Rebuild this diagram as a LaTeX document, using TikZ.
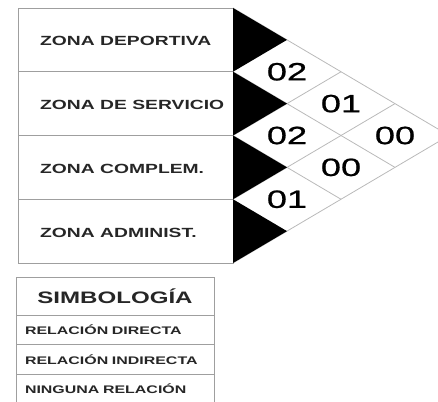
\documentclass[tikz,border=0pt]{standalone}
\usepackage{fontspec}
\setmainfont{Liberation Sans}[FakeStretch=1.45]
\newfontfamily\cifras{Liberation Sans}[FakeStretch=1.45, FakeBold=0.8]
\usetikzlibrary{positioning}

\begin{document}
\begin{tikzpicture}[x=1pt, y=1pt,
  zona/.style={draw=gray!75, line width=0.9pt, outer sep=0pt, minimum width=215pt, minimum height=63.75pt,
    label={[etiqueta]west:#1}},
  etiqueta/.style={anchor=west, xshift=22pt, yshift=-1.5pt, inner sep=0pt, text=black!85,
    font=\fontsize{13.3}{15}\selectfont\bfseries},
  rejilla/.style={draw=gray!55, line width=0.8pt},
  valor/.style={inner sep=0pt, font=\cifras\fontsize{25}{28}\selectfont},
  simbtitulo/.style={draw=gray!75, line width=0.9pt, outer sep=0pt, minimum width=198pt, minimum height=38pt,
    text=black!85, font=\fontsize{16.6}{18}\selectfont\bfseries},
  simbfila/.style={draw=gray!75, line width=0.9pt, outer sep=0pt, minimum width=198pt, minimum height=29.5pt,
    text width=180pt, inner xsep=9pt, align=left, text=black!85, font=\fontsize{11}{12}\selectfont\bfseries}]

\useasboundingbox (0,0) rectangle (438,-401);

\node[zona={ZONA DEPORTIVA}, anchor=north west] (zona_1) at (18,-8) {};
\node[zona={ZONA DE SERVICIO}] (zona_2) [below=0pt of zona_1] {};
\node[zona={ZONA COMPLEM.}] (zona_3) [below=0pt of zona_2] {};
\node[zona={ZONA ADMINIST.}] (zona_4) [below=0pt of zona_3] {};

\coordinate[right=54pt of zona_1.east] (tip_1);
\coordinate[right=54pt of zona_2.east] (tip_2);
\coordinate[right=54pt of zona_3.east] (tip_3);
\coordinate[right=54pt of zona_4.east] (tip_4);
\coordinate[right=108pt of zona_1.south east] (esq_12);
\coordinate[right=162pt of zona_2.east] (esq_22);
\coordinate[right=216pt of zona_2.south east] (esq_far);
\coordinate[right=162pt of zona_3.east] (esq_32);
\coordinate[right=108pt of zona_3.south east] (esq_33);

% rejilla de la matriz
\path[rejilla] (zona_1.north east) -- (esq_far);
\path[rejilla] (zona_4.south east) -- (esq_far);
\path[rejilla] (zona_2.north east) -- (esq_32);
\path[rejilla] (zona_3.north east) -- (esq_33);
\path[rejilla] (zona_3.south east) -- (esq_22);
\path[rejilla] (zona_2.south east) -- (esq_12);

\fill (zona_1.north east) -- (tip_1) -- (zona_1.south east) -- cycle;
\fill (zona_2.north east) -- (tip_2) -- (zona_2.south east) -- cycle;
\fill (zona_3.north east) -- (tip_3) -- (zona_3.south east) -- cycle;
\fill (zona_4.north east) -- (tip_4) -- (zona_4.south east) -- cycle;

\node[valor] (val_12) [right=54pt of zona_1.south east, anchor=center] {02};
\node[valor] (val_23) [right=54pt of zona_2.south east, anchor=center] {02};
\node[valor] (val_34) [right=54pt of zona_3.south east, anchor=center] {01};
\node[valor] (val_13) [right=108pt of zona_2.east, anchor=center] {01};
\node[valor] (val_24) [right=108pt of zona_3.east, anchor=center] {00};
\node[valor] (val_14) [right=162pt of zona_2.south east, anchor=center] {00};

\node[simbtitulo, anchor=north west] (simb) at (16,-277) {SIMBOLOGÍA};
\node[simbfila] (rel_directa) [below=0pt of simb] {RELACIÓN DIRECTA};
\node[simbfila] (rel_indirecta) [below=0pt of rel_directa] {RELACIÓN INDIRECTA};
\node[simbfila] (rel_ninguna) [below=0pt of rel_indirecta] {NINGUNA RELACIÓN};

\end{tikzpicture}
\end{document}
